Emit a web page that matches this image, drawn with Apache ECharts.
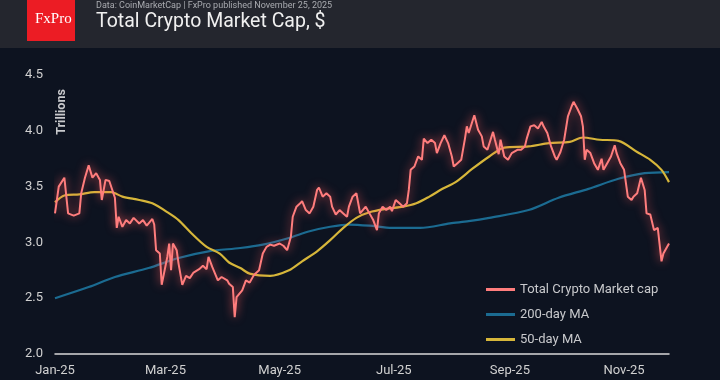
<!DOCTYPE html>
<html>
<head>
<meta charset="utf-8">
<script src="https://cdn.jsdelivr.net/npm/echarts@6/dist/echarts.min.js"></script>
<style>
html,body{margin:0;padding:0;background:#0d1320;}
#chart{width:720px;height:380px;}
</style>
</head>
<body>
<div id="chart"></div>
<script>
// Day offsets are days since 2025-01-01
var priceDays = [0,2,5,7,8,10,13,14,16,18,20,22,24,25,27,29,32,33,34,36,38,40,42,45,47,49,52,53,54,56,57,60,61,62,63,65,66,68,70,72,74,77,79,81,82,84,87,89,92,93,95,96,97,100,102,104,106,107,109,111,113,115,117,120,122,124,126,127,129,131,132,134,136,138,140,141,143,145,147,148,150,152,154,156,157,159,161,163,164,166,168,170,172,173,175,177,179,180,182,184,186,188,189,190,192,194,196,197,199,201,203,204,206,208,210,212,213,215,217,219,220,221,224,226,228,229,231,234,235,237,238,240,242,244,245,247,249,251,252,254,256,258,260,261,263,265,267,268,270,272,274,276,277,279,281,282,283,284,286,288,290,292,293,295,297,299,300,302,304,306,308,309,311,313,315,316,318,320,322,324,325,328];
var priceValues = [3.26,3.50,3.58,3.26,3.25,3.24,3.26,3.44,3.58,3.69,3.58,3.62,3.56,3.38,3.56,3.55,3.40,3.13,3.23,3.14,3.20,3.17,3.22,3.17,3.20,3.15,3.21,3.16,2.93,2.90,2.62,2.87,2.99,2.75,2.99,2.93,2.81,2.62,2.70,2.68,2.73,2.76,2.79,2.76,2.87,2.78,2.66,2.69,2.66,2.63,2.60,2.33,2.51,2.57,2.66,2.64,2.70,2.72,2.75,2.90,2.96,2.98,2.97,2.99,2.97,2.93,3.05,3.23,3.32,3.35,3.37,3.29,3.26,3.32,3.47,3.49,3.41,3.44,3.41,3.32,3.25,3.29,3.26,3.23,3.32,3.41,3.44,3.26,3.26,3.32,3.26,3.20,3.11,3.26,3.32,3.29,3.32,3.28,3.38,3.35,3.32,3.35,3.47,3.65,3.68,3.77,3.74,3.93,3.89,3.92,3.89,3.80,3.89,3.96,3.89,3.77,3.68,3.71,3.74,3.93,4.04,3.98,4.14,4.01,3.95,3.86,3.83,3.99,3.92,3.79,3.92,3.77,3.74,3.80,3.80,3.83,3.83,3.86,3.93,4.04,4.05,4.02,4.08,4.04,3.98,3.86,3.77,3.74,3.81,3.92,4.13,4.22,4.26,4.20,4.13,4.04,3.74,3.83,3.80,3.71,3.65,3.75,3.65,3.71,3.77,3.87,3.80,3.71,3.65,3.41,3.38,3.41,3.44,3.58,3.47,3.26,3.25,3.11,3.13,2.83,2.90,2.99];

var ma200Days = [0,18,32,50,66,82,99,111,125,136,147,157,168,180,195,211,221,232,253,269,285,301,315,328];
var ma200Values = [2.50,2.60,2.69,2.77,2.86,2.92,2.95,2.98,3.04,3.10,3.14,3.16,3.15,3.13,3.13,3.17,3.19,3.22,3.29,3.40,3.48,3.57,3.62,3.63];

var ma50Days = [0,5,13,21,30,36,45,52,61,66,73,81,88,93,99,104,115,125,132,140,147,154,161,168,177,186,193,200,207,214,223,232,240,253,264,275,282,291,301,311,318,324,328];
var ma50Values = [3.36,3.42,3.43,3.45,3.45,3.41,3.38,3.35,3.26,3.20,3.08,2.96,2.90,2.82,2.77,2.72,2.70,2.75,2.83,2.92,3.02,3.13,3.22,3.27,3.30,3.32,3.35,3.41,3.48,3.54,3.66,3.77,3.85,3.86,3.89,3.90,3.94,3.92,3.91,3.81,3.74,3.65,3.54];

var seriesNames = ['Total Crypto Market cap','200-day MA','50-day MA'];
var monthLabels = ['Jan','Feb','Mar','Apr','May','Jun','Jul','Aug','Sep','Oct','Nov','Dec'];
var yTicks = [2.0,2.5,3.0,3.5,4.0,4.5];

function toTs(d){ return new Date(2025,0,1+d).getTime(); }
function pairs(days, vals){ return days.map(function(d,i){ return [toTs(d), vals[i]]; }); }

var chart = echarts.init(document.getElementById('chart'));
var option = {
  backgroundColor: '#0d1320',
  animation: false,
  grid: {left: 55, right: 51, top: 75, bottom: 26, containLabel: false},
  legend: {
    orient: 'vertical', left: 481, top: 278, itemWidth: 29, itemHeight: 3, itemGap: 12,
    icon: 'rect',
    textStyle: {color: '#c8c9cc', fontSize: 13, fontFamily: 'Roboto'},
    data: seriesNames
  },
  xAxis: {
    type: 'time',
    min: toTs(0), max: toTs(328),
    minInterval: 28*86400000, maxInterval: 31*86400000,
    axisLine: {show: true, lineStyle: {color: '#d8d8d8', width: 1.5}},
    axisTick: {show: false},
    splitLine: {show: false},
    axisLabel: {
      color: '#d0d0d0', fontSize: 13, fontFamily: 'Roboto', margin: 10,
      hideOverlap: false,
      showMinLabel: true, showMaxLabel: false,
      formatter: function(v){
        var d = new Date(v);
        if (d.getDate() !== 1 || d.getMonth() % 2 !== 0) return '';
        return monthLabels[d.getMonth()] + '-25';
      }
    }
  },
  yAxis: {
    type: 'value', min: yTicks[0], max: yTicks[yTicks.length-1], interval: 0.5,
    axisLine: {show: false}, axisTick: {show: false}, splitLine: {show: false},
    axisLabel: {color: '#d0d0d0', fontSize: 13, fontFamily: 'Roboto', margin: 12,
      formatter: function(v){ return v.toFixed(1); }}
  },
  graphic: [
    {type: 'rect', left: 0, top: 0, shape: {width: 720, height: 48}, style: {fill: '#24262e'}, z: 10},
    {type: 'rect', left: 27, top: 0, shape: {width: 48, height: 41}, style: {fill: '#ec1c24'}, z: 11},
    {type: 'text', left: 35, top: 12, style: {text: 'FxPro', fill: '#ffffff', font: '15px "Liberation Serif", serif'}, z: 12},
    {type: 'text', left: 96, top: 1, style: {text: 'Data: CoinMarketCap | FxPro published November 25, 2025', fill: '#a9abb0', font: '9px Roboto'}, z: 12},
    {type: 'text', left: 96, top: 12, style: {text: 'Total Crypto Market Cap, $', fill: '#f0f0f0', font: '19.5px Roboto'}, z: 12},
    {type: 'text', x: 55, y: 112, rotation: Math.PI/2, style: {text: 'Trillions', fill: '#c8c9cc', font: 'bold 12.5px Roboto', align: 'center', verticalAlign: 'top'}, z: 12}
  ],
  series: [
    {name: seriesNames[0], type: 'line', data: pairs(priceDays, priceValues), showSymbol: false, z: 3,
      lineStyle: {color: '#ff7d7d', width: 2, shadowBlur: 10, shadowColor: 'rgba(255,90,90,0.8)'},
      itemStyle: {color: '#ff7d7d'}},
    {name: seriesNames[1], type: 'line', data: pairs(ma200Days, ma200Values), showSymbol: false, smooth: 0.3, z: 2,
      lineStyle: {color: '#1b6b91', width: 2.2}, itemStyle: {color: '#1b6b91'}},
    {name: seriesNames[2], type: 'line', data: pairs(ma50Days, ma50Values), showSymbol: false, smooth: 0.3, z: 2,
      lineStyle: {color: '#d6b63a', width: 2.2}, itemStyle: {color: '#d6b63a'}}
  ]
};
chart.setOption(option);
</script>
</body>
</html>
